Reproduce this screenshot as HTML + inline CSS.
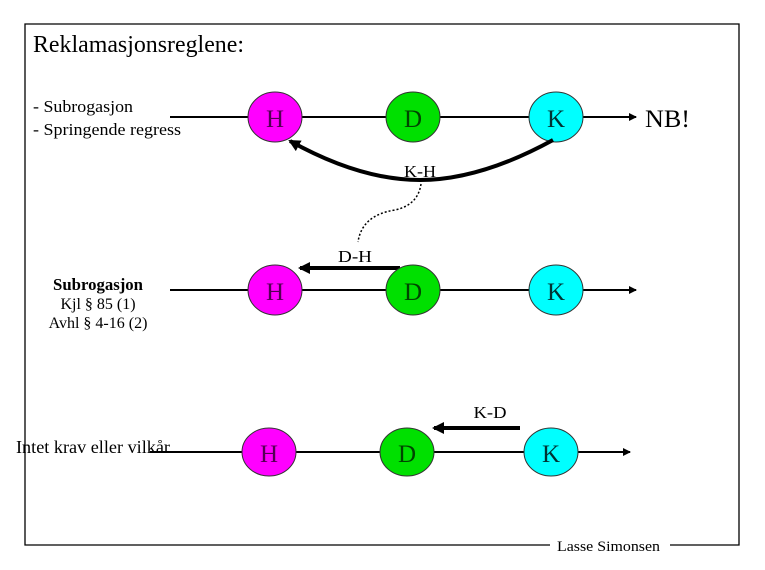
<!DOCTYPE html>
<html><head><meta charset="utf-8"><style>
body{margin:0;background:#fff;}
svg{display:block;font-family:"Liberation Serif",serif;}
</style></head><body>
<svg width="765" height="570" viewBox="0 0 765 570" xmlns="http://www.w3.org/2000/svg">
<defs>
<marker id="a" markerWidth="8" markerHeight="8" refX="7" refY="4" orient="auto" markerUnits="userSpaceOnUse"><path d="M0,0 L8,4 L0,8 Z" fill="#000"/></marker>
<marker id="b" markerWidth="12" markerHeight="12" refX="10" refY="6" orient="auto" markerUnits="userSpaceOnUse"><path d="M0,0 L12,6 L0,12 Z" fill="#000"/></marker>
</defs>
<rect x="0" y="0" width="765" height="570" fill="#fff"/>
<path d="M550,545 L25,545 L25,24 L739,24 L739,545 L670,545" fill="none" stroke="#000" stroke-width="1.3"/>
<text x="33" y="52" font-size="24" textLength="211" lengthAdjust="spacingAndGlyphs">Reklamasjonsreglene:</text>
<text x="33" y="112" font-size="17" textLength="100" lengthAdjust="spacingAndGlyphs">- Subrogasjon</text>
<text x="33" y="135" font-size="17" textLength="148" lengthAdjust="spacingAndGlyphs">- Springende regress</text>
<text x="557" y="551" font-size="15" textLength="103" lengthAdjust="spacingAndGlyphs">Lasse Simonsen</text>

<!-- row 1 -->
<line x1="170" y1="117" x2="636" y2="117" stroke="#000" stroke-width="2" marker-end="url(#a)"/>
<ellipse cx="275" cy="117" rx="27" ry="25" fill="#ff00ff" stroke="#333"/>
<ellipse cx="413" cy="117" rx="27" ry="25" fill="#00e000" stroke="#333"/>
<ellipse cx="556" cy="117" rx="27" ry="25" fill="#00ffff" stroke="#333"/>
<text x="275" y="127" font-size="25" text-anchor="middle" fill="#550055">H</text>
<text x="413" y="127" font-size="25" text-anchor="middle" fill="#004400">D</text>
<text x="556" y="127" font-size="25" text-anchor="middle" fill="#003333">K</text>
<text x="645" y="127" font-size="25" textLength="45" lengthAdjust="spacingAndGlyphs">NB!</text>
<path d="M553,140 Q480,180 420,180 Q360,180 290,141" fill="none" stroke="#000" stroke-width="4" marker-end="url(#b)"/>
<text x="420" y="177" font-size="17" text-anchor="middle" textLength="32" lengthAdjust="spacingAndGlyphs">K-H</text>
<path d="M421,184 Q418,205 395,210 Q362,215 358,242" fill="none" stroke="#000" stroke-width="1.5" stroke-dasharray="2,2"/>

<!-- row 2 -->
<text x="355" y="262" font-size="17" text-anchor="middle" textLength="34" lengthAdjust="spacingAndGlyphs">D-H</text>
<line x1="400" y1="268" x2="300" y2="268" stroke="#000" stroke-width="4" marker-end="url(#b)"/>
<line x1="170" y1="290" x2="636" y2="290" stroke="#000" stroke-width="2" marker-end="url(#a)"/>
<ellipse cx="275" cy="290" rx="27" ry="25" fill="#ff00ff" stroke="#333"/>
<ellipse cx="413" cy="290" rx="27" ry="25" fill="#00e000" stroke="#333"/>
<ellipse cx="556" cy="290" rx="27" ry="25" fill="#00ffff" stroke="#333"/>
<text x="275" y="300" font-size="25" text-anchor="middle" fill="#550055">H</text>
<text x="413" y="300" font-size="25" text-anchor="middle" fill="#004400">D</text>
<text x="556" y="300" font-size="25" text-anchor="middle" fill="#003333">K</text>
<text x="98" y="290" font-size="17" text-anchor="middle" font-weight="bold" textLength="90" lengthAdjust="spacingAndGlyphs">Subrogasjon</text>
<text x="98" y="309" font-size="16" text-anchor="middle">Kjl § 85 (1)</text>
<text x="98" y="328" font-size="16" text-anchor="middle">Avhl § 4-16 (2)</text>

<!-- row 3 -->
<text x="490" y="418" font-size="17" text-anchor="middle" textLength="33" lengthAdjust="spacingAndGlyphs">K-D</text>
<line x1="520" y1="428" x2="434" y2="428" stroke="#000" stroke-width="4" marker-end="url(#b)"/>
<line x1="150" y1="452" x2="630" y2="452" stroke="#000" stroke-width="2" marker-end="url(#a)"/>
<ellipse cx="269" cy="452" rx="27" ry="24" fill="#ff00ff" stroke="#333"/>
<ellipse cx="407" cy="452" rx="27" ry="24" fill="#00e000" stroke="#333"/>
<ellipse cx="551" cy="452" rx="27" ry="24" fill="#00ffff" stroke="#333"/>
<text x="269" y="462" font-size="25" text-anchor="middle" fill="#550055">H</text>
<text x="407" y="462" font-size="25" text-anchor="middle" fill="#004400">D</text>
<text x="551" y="462" font-size="25" text-anchor="middle" fill="#003333">K</text>
<text x="16" y="453" font-size="18" textLength="154" lengthAdjust="spacingAndGlyphs">Intet krav eller vilkår</text>
</svg>
</body></html>
